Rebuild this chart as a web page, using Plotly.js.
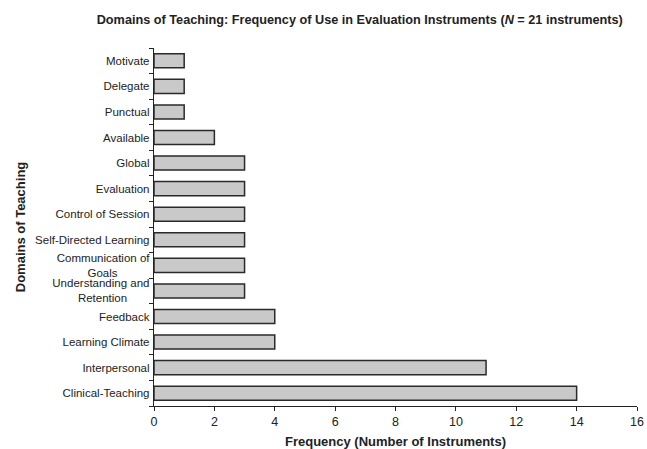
<!DOCTYPE html>
<html><head><meta charset="utf-8">
<script src="https://cdn.plot.ly/plotly-3.0.1.min.js"></script>
<style>html,body{margin:0;padding:0;background:#fff;}#chart{width:647px;height:449px;}</style>
</head><body><div id="chart"></div>
<script>
const domains = ["Clinical-Teaching","Interpersonal","Learning Climate","Feedback","Understanding and<br>Retention","Communication of<br>Goals","Self-Directed Learning","Control of Session","Evaluation","Global","Available","Punctual","Delegate","Motivate"];
const frequency = [14,11,4,4,3,3,3,3,3,3,2,1,1,1];
const xTicks = [0,2,4,6,8,10,12,14,16];

// centre the second line of the two-line labels (Plotly right-aligns each line)
const pad = n => "\u00a0".repeat(n);
const tickLabels = domains.map(d => d
  .replace("<br>Retention", "<br>Retention" + pad(7))
  .replace("<br>Goals", "<br>Goals" + pad(10)));

const trace = {
  type: "bar", orientation: "h",
  y: domains, x: frequency,
  width: 0.55,
  marker: {color: "#c9c9c9", line: {color: "#2a2a2a", width: 1.5}},
  hoverinfo: "none"
};
const layout = {
  width: 647, height: 449,
  margin: {l: 154, r: 10, t: 48, b: 43},
  paper_bgcolor: "#fff", plot_bgcolor: "#fff",
  font: {family: "Liberation Sans, Arial, sans-serif", size: 12, color: "#222"},
  title: {text: "<b>Domains of Teaching: Frequency of Use in Evaluation Instruments (<i>N</i> = 21 instruments)</b>",
          x: 0.556, xanchor: "center", y: 0.957, yanchor: "middle", font: {size: 12.7, color: "#222"}},
  xaxis: {range: [0, 16], tickvals: xTicks, ticktext: xTicks.map(String), showgrid: false, zeroline: false,
          showline: true, linecolor: "#222", linewidth: 1.2, ticks: "outside", ticklen: 4, tickcolor: "#222",
          tickfont: {size: 12.5},
          title: {text: "<b>Frequency (Number of Instruments)</b>", standoff: 13, font: {size: 13}}},
  yaxis: {type: "category", categoryorder: "array", categoryarray: domains, range: [-0.5, 13.5],
          tickvals: domains, ticktext: tickLabels,
          showgrid: false, zeroline: false, showline: true, linecolor: "#222", linewidth: 1.2,
          ticks: "outside", ticklen: 4, tickcolor: "#222", tickson: "boundaries", ticklabelstandoff: 1,
          tickfont: {size: 11.5},
          title: {text: "<b>Domains of Teaching</b>", standoff: 6, font: {size: 13}}}
};
Plotly.newPlot("chart", [trace], layout, {displayModeBar: false, staticPlot: true});
</script></body></html>
